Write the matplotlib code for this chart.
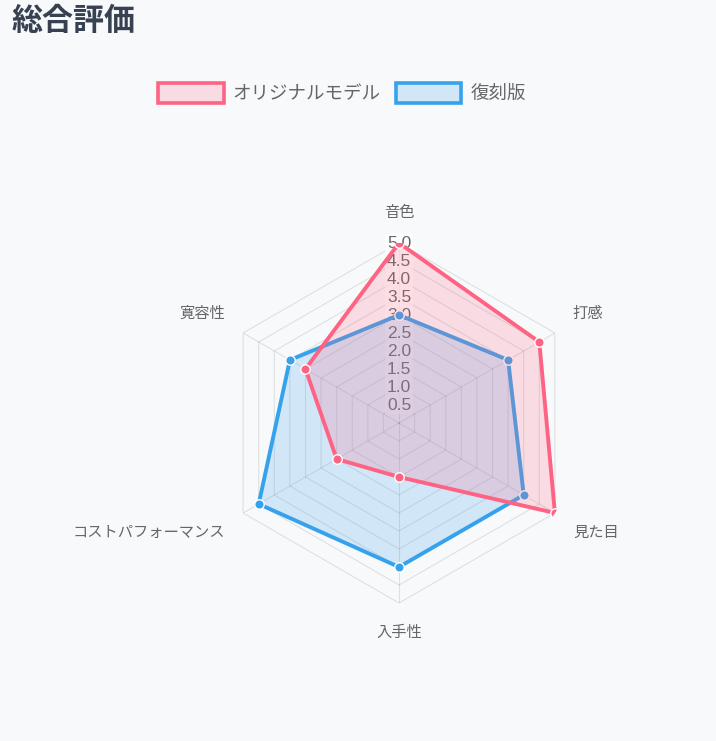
import numpy as np
import matplotlib
matplotlib.use("Agg")
import matplotlib.pyplot as plt
from matplotlib.patches import Patch

plt.rcParams['font.family'] = ['Noto Sans CJK JP', 'DejaVu Sans']

# data
categories = ['音色', '打感', '見た目', '入手性', 'コストパフォーマンス', '寛容性']
original = [5.0, 4.5, 5.0, 1.5, 2.0, 3.0]
replica = [3.0, 3.5, 4.0, 4.0, 4.5, 3.5]
series_names = ['オリジナルモデル', '復刻版']
tick_values = [0.5, 1.0, 1.5, 2.0, 2.5, 3.0, 3.5, 4.0, 4.5, 5.0]
r_max = 5.0

BG = '#f8f9fb'
RED = '#ff6384'
BLUE = '#36a2eb'
LABEL = '#666666'

W, H = 716, 741
fig = plt.figure(figsize=(W / 100, H / 100), dpi=100, facecolor=BG)

# radar centre and radius in pixels
cx, cy, rad = 399, 423, 180
ax = fig.add_axes([(cx - rad) / W, (H - cy - rad) / H, 2 * rad / W, 2 * rad / H],
                  projection='polar')
ax.set_facecolor('none')
ax.set_theta_zero_location('N')
ax.set_theta_direction(-1)
ax.set_ylim(0, r_max)
ax.grid(False)
ax.spines['polar'].set_visible(False)
ax.set_xticks([])
ax.set_yticks([])

n = len(categories)
theta = np.linspace(0, 2 * np.pi, n, endpoint=False)
theta_closed = np.append(theta, theta[0])

# polygon grid + angle lines
grid_col = (0, 0, 0, 0.1)
for v in tick_values:
    ax.plot(theta_closed, [v] * (n + 1), color=grid_col, lw=0.8, zorder=1)
for t in theta:
    ax.plot([t, t], [0, r_max], color=grid_col, lw=0.8, zorder=1)

# tick labels along the top spoke
for v in tick_values:
    ax.text(0, v, f'{v:.1f}', ha='center', va='center', fontsize=12.5,
            family='Liberation Sans', color=LABEL, zorder=2,
            bbox=dict(boxstyle='square,pad=0.1', fc=(1, 1, 1, 0.75), ec='none'))


def draw_series(values, color, z):
    vals = np.append(values, values[0])
    ax.fill(theta_closed, vals, color=color, alpha=0.2, lw=0, zorder=z)
    ax.plot(theta_closed, vals, color=color, lw=2.8, zorder=z + 0.1,
            solid_joinstyle='miter')
    ax.plot(theta, values, 'o', color=color, ms=6.8, mec='white', mew=1,
            zorder=z + 0.2)


draw_series(replica, BLUE, 3)
draw_series(original, RED, 4)

# point labels (offsets in pixels from the outer vertex)
offsets = [(0, 31, 'center'), (18, 20, 'left'), (18, -19, 'left'),
           (0, -29, 'center'), (-18, -19, 'right'), (-18, 20, 'right')]
for t, lab, (dx, dy, ha) in zip(theta, categories, offsets):
    ax.annotate(lab, xy=(t, r_max), xytext=(dx, dy), textcoords='offset pixels',
                ha=ha, va='center', fontsize=11, color=LABEL,
                annotation_clip=False)

# legend
handles = [Patch(facecolor=(1, 0.388, 0.518, 0.2), edgecolor=RED, lw=2.6),
           Patch(facecolor=(0.212, 0.635, 0.922, 0.2), edgecolor=BLUE, lw=2.6)]
fig.legend(handles, series_names, loc='center', bbox_to_anchor=(342 / W, 1 - 93 / H),
           ncol=2, frameon=False, fontsize=13.3, handlelength=3.55, handleheight=1.3,
           handletextpad=0.5, columnspacing=0.8, labelcolor=LABEL)

# title
fig.text(12 / W, 1 - 21 / H, '総合評価', fontsize=22.3, fontweight='bold',
         color='#374151', ha='left', va='center')

fig.savefig('out.png', dpi=100, facecolor=BG)
